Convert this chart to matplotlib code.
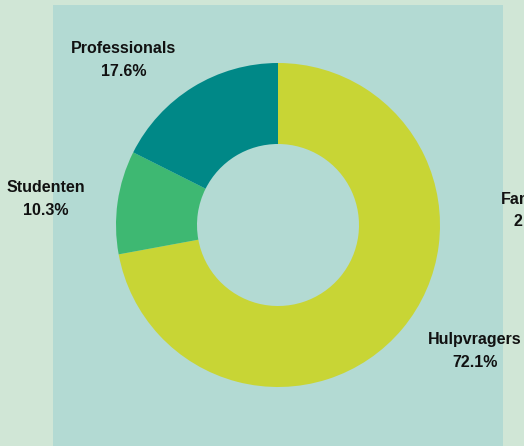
import matplotlib
matplotlib.use("Agg")
import matplotlib.pyplot as plt
import numpy as np

categories = ["Hulpvragers", "Studenten", "Professionals"]
values = [72.1, 10.3, 17.6]
colors = ["#c8d535", "#3eb872", "#008887"]
extra_label = "Familie"
extra_pct = "2"

plt.rcParams['font.family'] = ['Liberation Sans', 'DejaVu Sans']

W, H = 524, 446
fig = plt.figure(figsize=(W / 100, H / 100), dpi=100)
fig.patch.set_facecolor("#d0e6d6")

# axes in pixel layout
cx, cy, R = 278, 225, 162
left, right, top, bottom = 53, 503, 5, 460
ax = fig.add_axes([left / W, 1 - bottom / H, (right - left) / W, (bottom - top) / H])
ax.set_facecolor("#b3dad3")

wedges, _ = ax.pie(values, colors=colors, startangle=90, counterclock=False,
                   radius=1.0, wedgeprops=dict(width=0.5, linewidth=0),
                   frame=True)
ax.set_xlim((left - cx) / R, (right - cx) / R)
ax.set_ylim((cy - bottom) / R, (cy - top) / R)
ax.set_aspect('auto')
ax.set_xticks([])
ax.set_yticks([])
for s in ax.spines.values():
    s.set_visible(False)

# label positions (pixel layout)
label_pos = {"Hulpvragers": (475, 351), "Studenten": (46, 199), "Professionals": (124, 60)}
for cat, v in zip(categories, values):
    px, py = label_pos[cat]
    fig.text(px / W, 1 - py / H, f"{cat}\n{v:.1f}%", ha="center", va="center",
             fontsize=11.5, fontweight="bold", color="#111111", linespacing=1.6)

fig.text(501 / W, 1 - 199 / H, extra_label, ha="left", va="center",
         fontsize=11.5, fontweight="bold", color="#111111")
fig.text(514 / W, 1 - 222 / H, extra_pct, ha="left", va="center",
         fontsize=11.5, fontweight="bold", color="#111111")

fig.savefig("out.png", dpi=100, facecolor=fig.get_facecolor())
